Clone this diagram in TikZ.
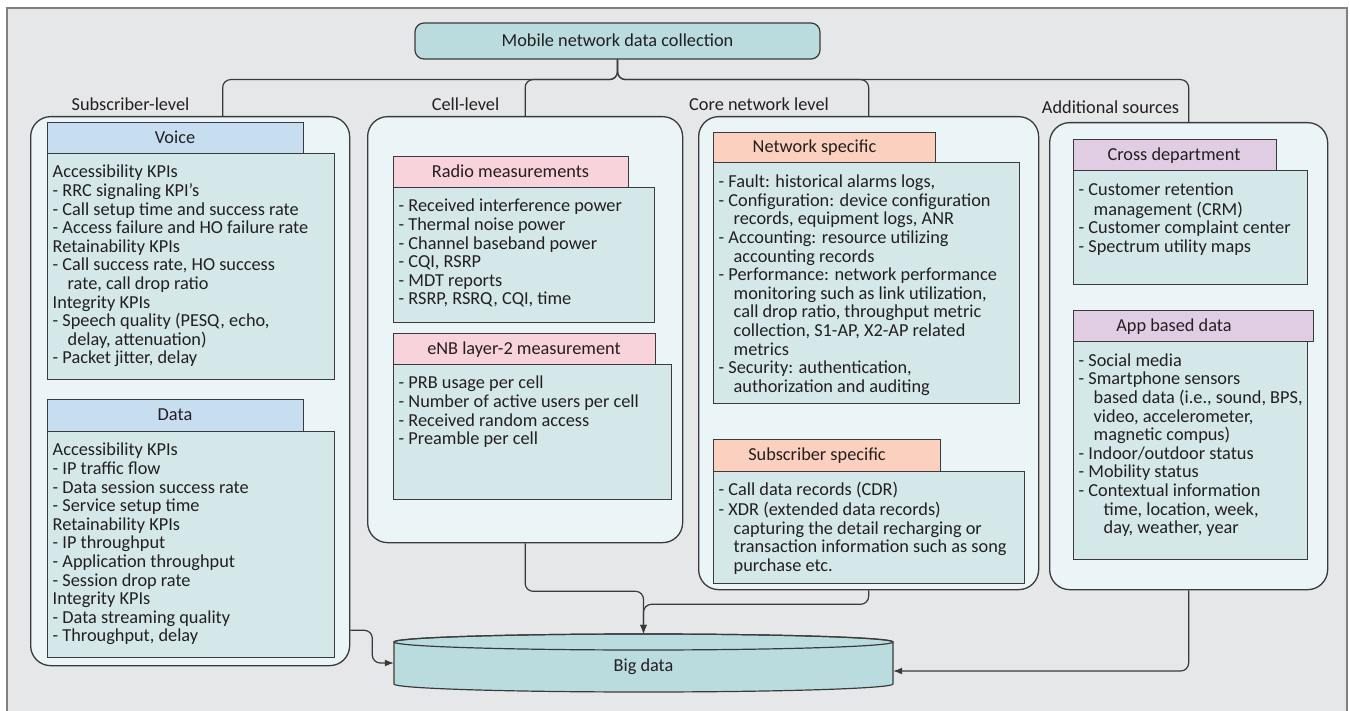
\documentclass[tikz,border=0pt]{standalone}
\usepackage{fontspec}
\setmainfont{Carlito}
\usetikzlibrary{arrows.meta}

\definecolor{bgcol}{HTML}{E6E7E8}
\definecolor{framecol}{HTML}{808080}
\definecolor{ink}{HTML}{231F20}
\definecolor{linecol}{HTML}{3A3A3A}
\definecolor{grpfill}{HTML}{EBF4F6}
\definecolor{bodyfill}{HTML}{D4E8EA}
\definecolor{tealfill}{HTML}{BBDCDF}
\definecolor{bluehdr}{HTML}{C7DEF1}
\definecolor{pinkhdr}{HTML}{F9D3DB}
\definecolor{peachhdr}{HTML}{FCD0BE}
\definecolor{lilachdr}{HTML}{E1CDE3}

\newcommand\contind{\hspace*{15pt}}
\newcommand\contindd{\hspace*{25pt}}

\begin{document}
\begin{tikzpicture}[x=1pt,y=1pt,
  every node/.style={font=\fontsize{18.3}{18.6}\selectfont, text=ink},
  conn/.style={draw=linecol, line width=1.2pt, rounded corners=8pt},
  arr/.style={conn, -{Latex[length=9pt,width=7pt]}},
  group/.style={draw=linecol, line width=1.3pt, fill=grpfill, rounded corners=20pt,
    inner sep=0pt, anchor=north west},
  hdr/.style={draw=linecol, line width=1.1pt, inner sep=0pt, anchor=north west},
  body/.style={draw=linecol, line width=1.1pt, fill=bodyfill, inner sep=0pt, anchor=north west},
  btext/.style={anchor=north west, align=left, inner sep=0pt},
  ctext/.style={inner sep=0pt, text height=11.7pt, text depth=0pt}
]
\useasboundingbox (0,0) rectangle (1350,-711);
\fill[white] (0,0) rectangle (1350,-711);
\fill[bgcol] (7,-8) rectangle (1347,-712);
\draw[framecol, line width=2pt] (7,-712) -- (7,-8) -- (1347,-8) -- (1347,-712);

% top node
\node[draw=linecol, line width=1.2pt, fill=tealfill, rounded corners=9pt,
  minimum width=405pt, minimum height=36pt, inner sep=0pt,
  text height=11.7pt, text depth=0pt] (top) at (617.5,-41) {Mobile network data collection};

% group boxes
\node[group, minimum width=319pt, minimum height=549pt] (sub)  at (30,-116) {};
\node[group, minimum width=315pt, minimum height=426pt] (cell) at (367,-116) {};
\node[group, minimum width=340pt, minimum height=473pt] (core) at (698,-116) {};
\node[group, minimum width=278pt, minimum height=467pt] (add)  at (1049,-122) {};

% level labels
\node[ctext] (subL)  at (130.5,-105) {Subscriber-level};
\node[ctext] (cellL) at (465.5,-105) {Cell-level};
\node[ctext] (coreL) at (759,-105) {Core network level};
\node[ctext] (addL)  at (1110.5,-108) {Additional sources};

% branches from the top node
\draw[conn] (top.south) -- ++(0,-20) -| ([xshift=32.5pt]sub.north);
\draw[conn] (top.south) -- ++(0,-20) -| (cell.north);
\draw[conn] (top.south) -- ++(0,-20) -| (core.north);
\draw[conn] (top.south) -- ++(0,-20) -| (add.north);

% subscriber-level
\node[body, minimum width=287pt, minimum height=226pt] (voiceB) at (47,-153) {};
\node[hdr, fill=bluehdr, minimum width=256pt, minimum height=31pt] (voiceH) at (47,-122) {};
\node[ctext] (voiceT) at (175,-137.5) {Voice};
\node[btext] (voiceX) at ([shift={(5.5,-11.7)}]voiceB.north west) {\strut Accessibility KPIs\\
- RRC signaling KPI’s\\
- Call setup time and success rate\\
- Access failure and HO failure rate\\
Retainability KPIs\\
- Call success rate, HO success\\
\contind rate, call drop ratio\\
Integrity KPIs\\
- Speech quality (PESQ, echo,\\
\contind delay, attenuation)\\
- Packet jitter, delay};

\node[body, minimum width=287pt, minimum height=226pt] (dataB) at (47,-431) {};
\node[hdr, fill=bluehdr, minimum width=256pt, minimum height=32pt] (dataH) at (47,-399) {};
\node[ctext] (dataT) at (175,-415) {Data};
\node[btext] (dataX) at ([shift={(5.5,-11.7)}]dataB.north west) {\strut Accessibility KPIs\\
- IP traffic flow\\
- Data session success rate\\
- Service setup time\\
Retainability KPIs\\
- IP throughput\\
- Application throughput\\
- Session drop rate\\
Integrity KPIs\\
- Data streaming quality\\
- Throughput, delay};

% cell-level
\node[body, minimum width=261pt, minimum height=135pt] (radioB) at (393,-187) {};
\node[hdr, fill=pinkhdr, minimum width=235pt, minimum height=31pt] (radioH) at (393,-156) {};
\node[ctext] (radioT) at (510.5,-171.5) {Radio measurements};
\node[btext] (radioX) at ([shift={(5.5,-11.7)}]radioB.north west) {\strut - Received interference power\\
- Thermal noise power\\
- Channel baseband power\\
- CQI, RSRP\\
- MDT reports\\
- RSRP, RSRQ, CQI, time};

\node[body, minimum width=278pt, minimum height=135pt] (enbB) at (393,-364) {};
\node[hdr, fill=pinkhdr, minimum width=262pt, minimum height=31pt] (enbH) at (393,-333) {};
\node[ctext] (enbT) at (524,-348.5) {eNB layer-2 measurement};
\node[btext] (enbX) at ([shift={(5.5,-11.7)}]enbB.north west) {\strut - PRB usage per cell\\
- Number of active users per cell\\
- Received random access\\
- Preamble per cell};

% core network level
\node[body, minimum width=306pt, minimum height=241pt] (netB) at (713,-162) {};
\node[hdr, fill=peachhdr, minimum width=222pt, minimum height=30pt] (netH) at (713,-132) {};
\node[ctext] (netT) at (814.5,-147) {Network specific};
\node[btext] (netX) at ([shift={(5.5,-12.5)}]netB.north west) {\strut - Fault: historical alarms logs,\\
- Configuration: device configuration\\
\contind records, equipment logs, ANR\\
- Accounting: resource utilizing\\
\contind accounting records\\
- Performance: network performance\\
\contind monitoring such as link utilization,\\
\contind call drop ratio, throughput metric\\
\contind collection, S1-AP, X2-AP related\\
\contind metrics\\
- Security: authentication,\\
\contind authorization and auditing};

\node[body, minimum width=311pt, minimum height=112pt] (subsB) at (713,-471) {};
\node[hdr, fill=peachhdr, minimum width=227pt, minimum height=32pt] (subsH) at (713,-439) {};
\node[ctext] (subsT) at (817,-455) {Subscriber specific};
\node[btext] (subsX) at ([shift={(5.5,-11.2)}]subsB.north west) {\strut - Call data records (CDR)\\
- XDR (extended data records)\\
\contind capturing the detail recharging or\\
\contind transaction information such as song\\
\contind purchase etc.};

% additional sources
\node[body, minimum width=234pt, minimum height=114pt] (crossB) at (1073,-170) {};
\node[hdr, fill=lilachdr, minimum width=203pt, minimum height=31pt] (crossH) at (1073,-139) {};
\node[ctext] (crossT) at (1174,-154.5) {Cross department};
\node[btext] (crossX) at ([shift={(5.5,-12)}]crossB.north west) {\strut - Customer retention\\
\contind management (CRM)\\
- Customer complaint center\\
- Spectrum utility maps};

\node[body, minimum width=234pt, minimum height=218pt] (appB) at (1073,-341) {};
\node[hdr, fill=lilachdr, minimum width=240pt, minimum height=31pt] (appH) at (1073,-310) {};
\node[ctext] (appT) at (1174,-325.5) {App based data};
\node[btext] (appX) at ([shift={(5.5,-12)}]appB.north west) {\strut - Social media\\
- Smartphone sensors\\
\contind based data (i.e., sound, BPS,\\
\contind video, accelerometer,\\
\contind magnetic compus)\\
- Indoor/outdoor status\\
- Mobility status\\
- Contextual information\\
\contindd time, location, week,\\
\contindd day, weather, year};

% big data store
\node[minimum width=499pt, minimum height=58pt, inner sep=0pt] (bd) at (643.5,-663) {};
\fill[tealfill, draw=linecol, line width=1.2pt]
  (394,-642) -- (394,-684) arc (180:360:249.5 and 8) -- (893,-642)
  arc (0:180:249.5 and 8) -- cycle;
\draw[linecol, line width=1.2pt] (643.5,-642) ellipse (249.5 and 8);
\node[ctext] (bdT) at (643.5,-666) {Big data};

% feeds into the store
\draw[arr] ([yshift=36pt]sub.south east) -- ++(22,0) |- (bd.west);
\draw[arr] (cell.south) -- ++(0,-48) -| (bd.north);
\draw[arr] (core.south) -- ++(0,-14) -| (bd.north);
\draw[arr] (add.south) |- ([yshift=-8pt]bd.east);
\end{tikzpicture}
\end{document}
